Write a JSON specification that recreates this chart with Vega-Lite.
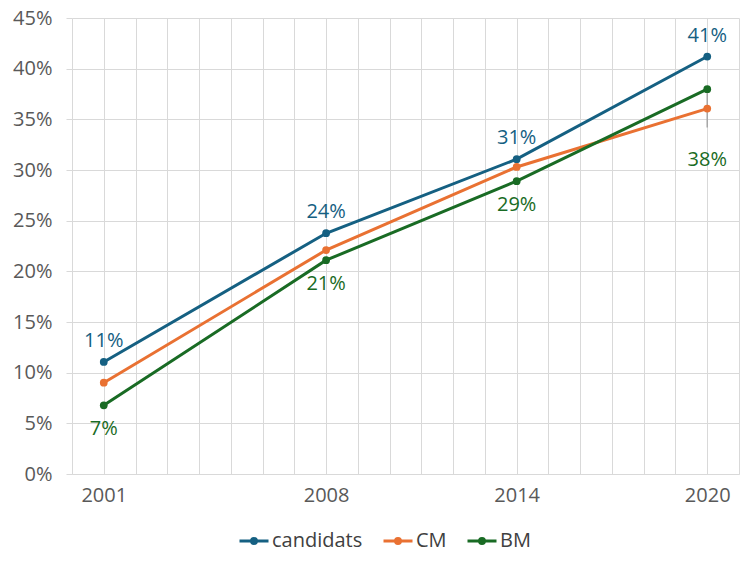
{
  "$schema": "https://vega.github.io/schema/vega-lite/v6.json",
  "autosize": {"type": "none"},
  "width": 667,
  "height": 456,
  "padding": {"left": 72, "top": 18, "right": 15, "bottom": 99},
  "background": "#ffffff",
  "datasets": {
    "series": [
      {"year": 2001, "serie": "candidats", "value": 0.1106},
      {"year": 2008, "serie": "candidats", "value": 0.2376},
      {"year": 2014, "serie": "candidats", "value": 0.3107},
      {"year": 2020, "serie": "candidats", "value": 0.412},
      {"year": 2001, "serie": "CM", "value": 0.0901},
      {"year": 2008, "serie": "CM", "value": 0.221},
      {"year": 2014, "serie": "CM", "value": 0.303},
      {"year": 2020, "serie": "CM", "value": 0.3606},
      {"year": 2001, "serie": "BM", "value": 0.0678},
      {"year": 2008, "serie": "BM", "value": 0.211},
      {"year": 2014, "serie": "BM", "value": 0.289},
      {"year": 2020, "serie": "BM", "value": 0.3798}
    ],
    "leader": [
      {"year": 2020, "from": 0.3798, "to": 0.342}
    ]
  },
  "data": {"name": "series"},
  "encoding": {
    "x": {
      "field": "year", "type": "quantitative",
      "scale": {"domain": [2000, 2021], "nice": false, "zero": false},
      "axis": {
        "title": null,
        "values": [2000, 2001, 2002, 2003, 2004, 2005, 2006, 2007, 2008, 2009, 2010, 2011, 2012, 2013, 2014, 2015, 2016, 2017, 2018, 2019, 2020, 2021],
        "labelExpr": "indexof([2001, 2008, 2014, 2020], datum.value) >= 0 ? datum.label : ''",
        "format": "d",
        "ticks": false,
        "labelPadding": 11,
        "domainColor": "#d9d9d9"
      }
    },
    "y": {
      "field": "value", "type": "quantitative",
      "scale": {"domain": [0, 0.45], "nice": false},
      "axis": {
        "title": null,
        "values": [0, 0.05, 0.1, 0.15, 0.2, 0.25, 0.3, 0.35, 0.4, 0.45],
        "format": ".0%",
        "domain": false,
        "tickSize": 6,
        "tickColor": "#d9d9d9",
        "labelPadding": 14
      }
    }
  },
  "layer": [
    {
      "data": {"name": "leader"},
      "mark": {"type": "rule", "color": "#a6a6a6", "strokeWidth": 1.5},
      "encoding": {
        "x": {"field": "year", "type": "quantitative"},
        "y": {"field": "from", "type": "quantitative"},
        "y2": {"field": "to"}
      }
    },
    {
      "mark": {"type": "line", "strokeWidth": 3, "point": {"filled": true, "size": 60, "opacity": 1}},
      "encoding": {
        "color": {
          "field": "serie", "type": "nominal",
          "scale": {"domain": ["candidats", "CM", "BM"], "range": ["#156082", "#E97132", "#196B24"]},
          "legend": {
            "title": null,
            "orient": "none",
            "direction": "horizontal",
            "legendX": 166,
            "legendY": 507,
            "symbolType": "M -1 0 L 1 0 M 0.17 0 A 0.17 0.17 0 1 1 -0.17 0 A 0.17 0.17 0 1 1 0.17 0",
            "symbolSize": 841,
            "symbolStrokeWidth": 3,
            "symbolFillColor": "transparent",
            "labelFontSize": 20,
            "labelColor": "#404040",
            "labelOffset": 2,
            "columnPadding": 14
          }
        },
        "order": {"field": "year"}
      }
    },
    {
      "transform": [{"filter": "datum.serie == 'candidats'"}],
      "mark": {"type": "text", "dy": -21, "fontSize": 20, "color": "#156082"},
      "encoding": {"text": {"field": "value", "type": "quantitative", "format": ".0%"}}
    },
    {
      "transform": [{"filter": "datum.serie == 'BM' && datum.year != 2020"}],
      "mark": {"type": "text", "dy": 24, "fontSize": 20, "color": "#196B24"},
      "encoding": {"text": {"field": "value", "type": "quantitative", "format": ".0%"}}
    },
    {
      "transform": [{"filter": "datum.serie == 'BM' && datum.year == 2020"}],
      "mark": {"type": "text", "dy": 71, "fontSize": 20, "color": "#196B24"},
      "encoding": {"text": {"field": "value", "type": "quantitative", "format": ".0%"}}
    }
  ],
  "config": {
    "font": "Open Sans",
    "view": {"stroke": null},
    "axis": {
      "gridColor": "#d9d9d9",
      "gridWidth": 1,
      "labelFontSize": 20,
      "labelColor": "#595959",
      "labelFont": "Open Sans"
    },
    "legend": {"labelFont": "Open Sans"}
  }
}
